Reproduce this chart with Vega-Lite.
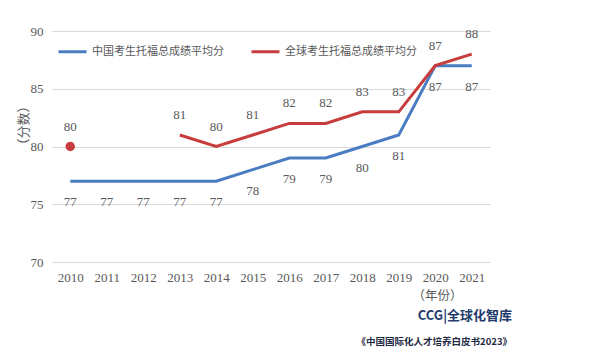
{
  "$schema": "https://vega.github.io/schema/vega-lite/v6.json",
  "width": 438,
  "height": 231,
  "autosize": {"type": "none"},
  "padding": {"left": 52, "top": 31, "right": 110, "bottom": 92},
  "background": "white",
  "config": {
    "view": {"stroke": null},
    "font": "Liberation Serif"
  },
  "title": {
    "text": "CCG|全球化智库",
    "subtitle": "《中国国际化人才培养白皮书2023》",
    "orient": "bottom",
    "anchor": "end",
    "dx": 22,
    "offset": 8,
    "font": "Noto Sans CJK SC",
    "fontSize": 13,
    "fontWeight": "bold",
    "color": "#1f3a6b",
    "subtitleFont": "Noto Sans CJK SC",
    "subtitleFontSize": 9.5,
    "subtitleFontWeight": "bold",
    "subtitleColor": "#1f2a44",
    "subtitlePadding": 14
  },
  "data": {
    "values": [
      {"year": "2010", "series": "中国考生托福总成绩平均分", "value": 77},
      {"year": "2011", "series": "中国考生托福总成绩平均分", "value": 77},
      {"year": "2012", "series": "中国考生托福总成绩平均分", "value": 77},
      {"year": "2013", "series": "中国考生托福总成绩平均分", "value": 77},
      {"year": "2014", "series": "中国考生托福总成绩平均分", "value": 77},
      {"year": "2015", "series": "中国考生托福总成绩平均分", "value": 78},
      {"year": "2016", "series": "中国考生托福总成绩平均分", "value": 79},
      {"year": "2017", "series": "中国考生托福总成绩平均分", "value": 79},
      {"year": "2018", "series": "中国考生托福总成绩平均分", "value": 80},
      {"year": "2019", "series": "中国考生托福总成绩平均分", "value": 81},
      {"year": "2020", "series": "中国考生托福总成绩平均分", "value": 87},
      {"year": "2021", "series": "中国考生托福总成绩平均分", "value": 87},
      {"year": "2010", "series": "全球考生托福总成绩平均分", "value": 80},
      {"year": "2013", "series": "全球考生托福总成绩平均分", "value": 81},
      {"year": "2014", "series": "全球考生托福总成绩平均分", "value": 80},
      {"year": "2015", "series": "全球考生托福总成绩平均分", "value": 81},
      {"year": "2016", "series": "全球考生托福总成绩平均分", "value": 82},
      {"year": "2017", "series": "全球考生托福总成绩平均分", "value": 82},
      {"year": "2018", "series": "全球考生托福总成绩平均分", "value": 83},
      {"year": "2019", "series": "全球考生托福总成绩平均分", "value": 83},
      {"year": "2020", "series": "全球考生托福总成绩平均分", "value": 87},
      {"year": "2021", "series": "全球考生托福总成绩平均分", "value": 88}
    ]
  },
  "encoding": {
    "x": {
      "field": "year",
      "type": "ordinal",
      "scale": {"paddingInner": 0, "paddingOuter": 0},
      "axis": {
        "title": "（年份）",
        "titleFont": "Noto Sans CJK SC",
        "titleFontWeight": "normal",
        "titleFontSize": 12.5,
        "titleColor": "#595959",
        "titleX": 385,
        "titleY": 27,
        "titleBaseline": "top",
        "labelAngle": 0,
        "labelFont": "Liberation Serif",
        "labelFontSize": 13,
        "labelColor": "#595959",
        "labelPadding": 9,
        "domain": false,
        "ticks": false,
        "grid": false
      }
    },
    "y": {
      "field": "value",
      "type": "quantitative",
      "scale": {"domain": [70, 90], "nice": false, "zero": false},
      "axis": {
        "values": [70, 75, 80, 85, 90],
        "title": "（分数）",
        "titleFont": "Noto Sans CJK SC",
        "titleFontWeight": "normal",
        "titleFontSize": 13,
        "titleColor": "#595959",
        "titleX": -22,
        "titleY": 94,
        "labelFont": "Liberation Serif",
        "labelFontSize": 13,
        "labelColor": "#595959",
        "labelPadding": 9,
        "domain": false,
        "ticks": false,
        "grid": true,
        "gridColor": "#d9d9d9",
        "gridWidth": 1
      }
    }
  },
  "layer": [
    {
      "transform": [{"filter": "datum.series === '中国考生托福总成绩平均分' || datum.year !== '2010'"}],
      "mark": {"type": "line", "strokeWidth": 3},
      "encoding": {
        "color": {
          "field": "series",
          "type": "nominal",
          "scale": {
            "domain": ["中国考生托福总成绩平均分", "全球考生托福总成绩平均分"],
            "range": ["#4a7cc2", "#c73c3c"]
          },
          "legend": {
            "title": null,
            "orient": "none",
            "legendX": 5,
            "legendY": 5,
            "direction": "horizontal",
            "symbolType": "stroke",
            "symbolStrokeWidth": 3,
            "symbolSize": 784,
            "labelFont": "Noto Sans CJK SC",
            "labelFontSize": 11,
            "labelColor": "#595959",
            "labelOffset": 4,
            "columnPadding": 21
          }
        }
      }
    },
    {
      "transform": [{"filter": "datum.series === '全球考生托福总成绩平均分' && datum.year === '2010'"}],
      "mark": {"type": "point", "filled": true, "size": 90, "color": "#c73c3c", "opacity": 1}
    },
    {
      "transform": [{"filter": "datum.series === '中国考生托福总成绩平均分'"}],
      "mark": {"type": "text", "dy": 21, "font": "Liberation Serif", "fontSize": 13, "color": "#595959"},
      "encoding": {"text": {"field": "value", "type": "quantitative"}}
    },
    {
      "transform": [{"filter": "datum.series === '全球考生托福总成绩平均分'"}],
      "mark": {"type": "text", "dy": -20, "font": "Liberation Serif", "fontSize": 13, "color": "#595959"},
      "encoding": {"text": {"field": "value", "type": "quantitative"}}
    }
  ]
}
